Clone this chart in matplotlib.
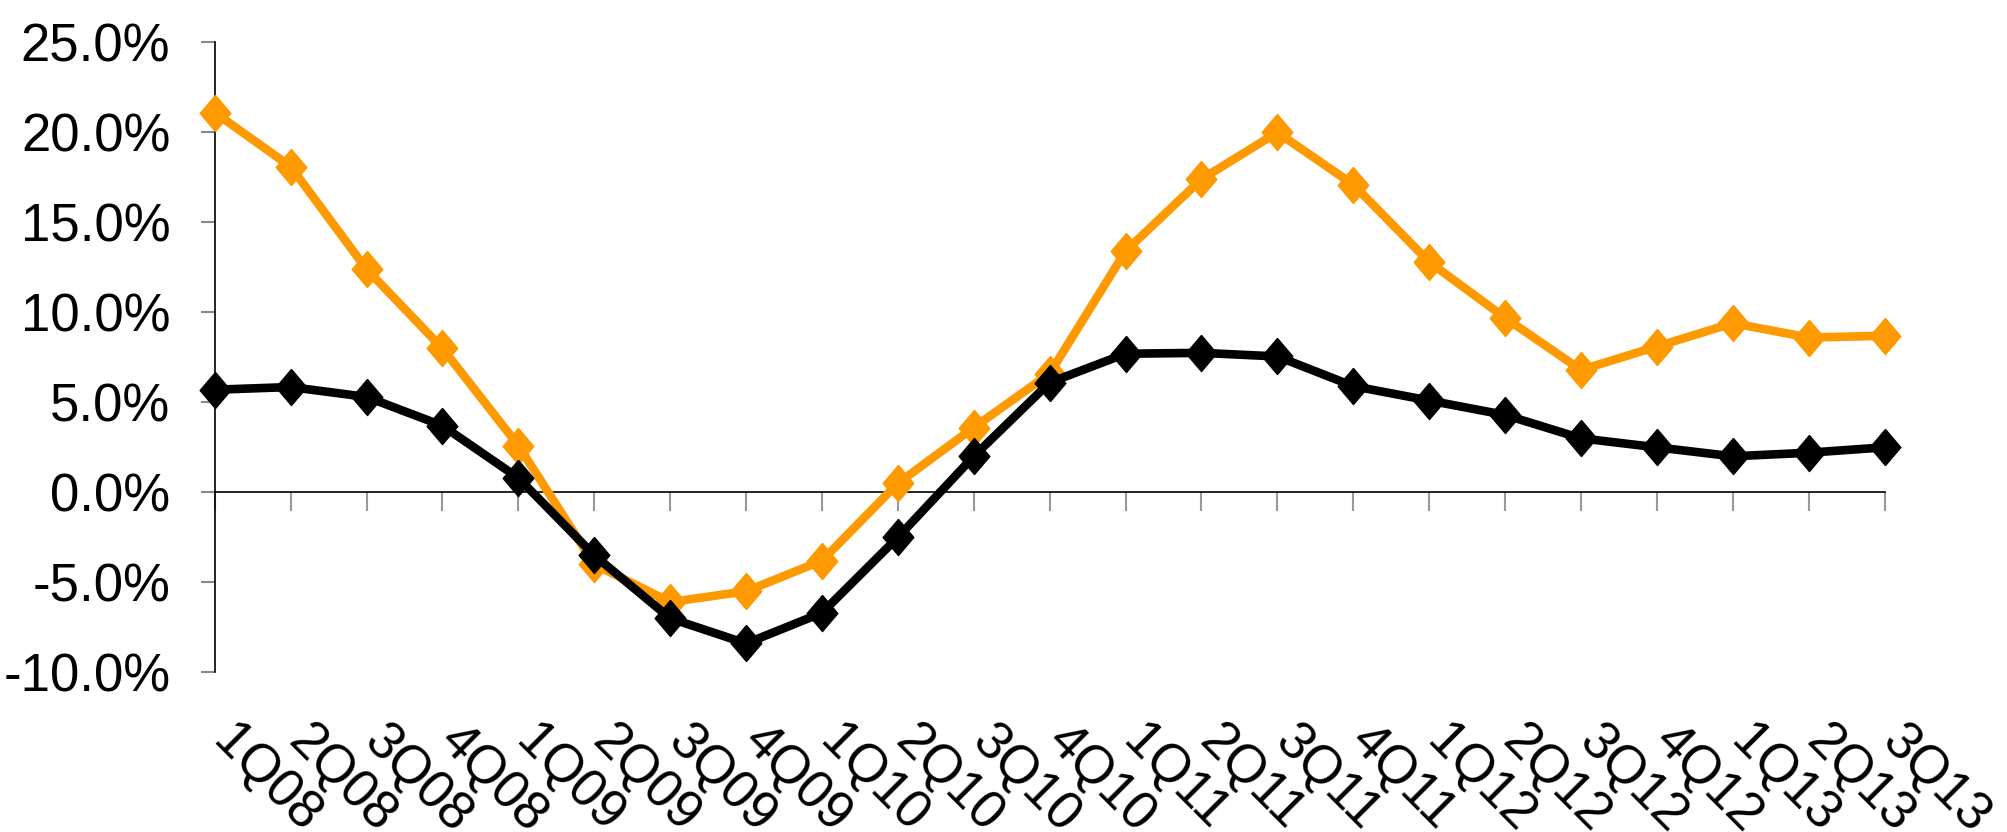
import matplotlib
matplotlib.use("Agg")
import matplotlib.pyplot as plt
from matplotlib.transforms import blended_transform_factory

plt.rcParams['font.family'] = ['Liberation Sans', 'DejaVu Sans']

quarters = ['1Q08', '2Q08', '3Q08', '4Q08', '1Q09', '2Q09', '3Q09', '4Q09',
            '1Q10', '2Q10', '3Q10', '4Q10', '1Q11', '2Q11', '3Q11', '4Q11',
            '1Q12', '2Q12', '3Q12', '4Q12', '1Q13', '2Q13', '3Q13']

orange_vals = [21.1, 18.1, 12.4, 8.0, 2.6, -4.0, -6.1, -5.5, -3.8, 0.5, 3.6, 6.6,
               13.4, 17.4, 20.0, 17.1, 12.8, 9.7, 6.8, 8.1, 9.4, 8.6, 8.7]
black_vals = [5.7, 5.85, 5.3, 3.7, 0.8, -3.5, -7.0, -8.4, -6.7, -2.5, 2.0, 6.1,
              7.7, 7.75, 7.55, 5.9, 5.1, 4.3, 3.0, 2.5, 2.0, 2.2, 2.5]

yticks = [-10, -5, 0, 5, 10, 15, 20, 25]

# diamond marker, a bit taller than wide
diamond = [(0, 1), (0.85, 0), (0, -1), (-0.85, 0), (0, 1)]

fig = plt.figure(figsize=(20.07, 8.32), dpi=100)
ax = fig.add_axes([0.107, 0.192, 0.832, 0.757])

x = list(range(len(quarters)))
ax.plot(x, orange_vals, color='#FF9900', lw=6.2, marker=diamond, ms=26,
        clip_on=False, zorder=3)
ax.plot(x, black_vals, color='black', lw=6.2, marker=diamond, ms=26,
        clip_on=False, zorder=4)

ax.set_xlim(0, len(quarters) - 1)
ax.set_ylim(-10, 25)

ax.spines['top'].set_visible(False)
ax.spines['right'].set_visible(False)
ax.spines['bottom'].set_position(('data', 0))
ax.spines['left'].set_linewidth(1.2)
ax.spines['bottom'].set_linewidth(1.2)

ax.set_yticks(yticks)
ax.set_yticklabels(['%.1f%%' % v for v in yticks], fontsize=38)
ax.tick_params(axis='y', length=10, width=1.5, color='#888888', pad=22)

ax.set_xticks(x)
ax.set_xticklabels([])
ax.tick_params(axis='x', length=14, width=1.5, color='#999999', direction='out')

trans = blended_transform_factory(ax.transData, ax.transAxes)
for i, q in enumerate(quarters):
    ax.text(i + 0.3, -0.07, q, transform=trans, fontsize=38, rotation=-45,
            ha='left', va='top', rotation_mode='anchor')

fig.savefig('out.png', dpi=100)
